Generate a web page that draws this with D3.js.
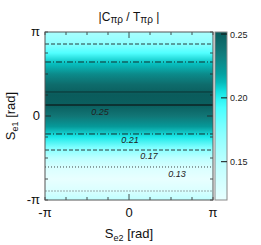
<!DOCTYPE html>
<html>
<head>
<meta charset="utf-8">
<script src="https://cdn.jsdelivr.net/npm/d3@7"></script>
<style>
  body { margin: 0; background: #fff; }
  svg { display: block; font-family: 'Liberation Sans', Arial, sans-serif; }
</style>
</head>
<body>
<div id="chart"></div>
<script>
const s1Samples = [-1, -0.875, -0.75, -0.625, -0.5, -0.375, -0.25, -0.125, 0, 0.125, 0.25, 0.375, 0.5, 0.625, 0.75, 0.875, 1]
const ratioValues = [0.148, 0.128, 0.120, 0.129, 0.150, 0.176, 0.203, 0.222, 0.237, 0.250, 0.2515, 0.243, 0.228, 0.211, 0.190, 0.168, 0.158]

// contour crossings (S_e1 in units of pi) and their level
const contourS = [0.286, 0.131, 0.643, -0.214, 0.857, -0.405, -0.607, -0.893]
const contourLevel = [0.25, 0.25, 0.21, 0.21, 0.17, 0.17, 0.13, 0.13]

// contour labels: level, S_e2 and S_e1 (units of pi)
const labelText = ['0.25', '0.21', '0.17', '0.13']
const labelS2 = [-0.345, 0.012, 0.238, 0.571]
const labelS1 = [0.048, -0.286, -0.476, -0.69]

const colorTicks = [0.15, 0.20, 0.25]
const valueRange = [0.120, 0.2516]
const colorStops = [0.12, 0.15, 0.175, 0.195, 0.205, 0.215, 0.235, 0.2516]
const colorList = ['#e8ffff', '#bcffff', '#82ffff', '#40ffff', '#12e2e2', '#00aaaa', '#127a7a', '#0a5c5c']

const width = 261, height = 245
const margin = { top: 32, right: 48, bottom: 45, left: 45 }
const plotW = width - margin.left - margin.right
const plotH = height - margin.top - margin.bottom

const svg = d3.select('#chart').append('svg').attr('width', width).attr('height', height)

const xScale = d3.scaleLinear().domain([-1, 1]).range([margin.left, margin.left + plotW])
const yScale = d3.scaleLinear().domain([-1, 1]).range([margin.top + plotH, margin.top])
const color = d3.scaleLinear().domain(colorStops).range(colorList)
const cbX = margin.left + plotW + 2, cbW = 12
const cScale = d3.scaleLinear().domain(valueRange).range([margin.top + plotH, margin.top])

const defs = svg.append('defs')

// heat map: one gradient along S_e1
const grad = defs.append('linearGradient').attr('id', 'heat')
  .attr('gradientUnits', 'userSpaceOnUse')
  .attr('x1', 0).attr('x2', 0).attr('y1', margin.top).attr('y2', margin.top + plotH)
grad.selectAll('stop').data(s1Samples.map((s, i) => ({ s, v: ratioValues[i] })).reverse())
  .join('stop')
  .attr('offset', (d) => (yScale(d.s) - margin.top) / plotH)
  .attr('stop-color', (d) => color(d.v))

svg.append('rect').attr('x', margin.left).attr('y', margin.top)
  .attr('width', plotW).attr('height', plotH).attr('fill', 'url(#heat)')

// colour bar gradient
const cbValues = d3.range(0, 21).map((i) => valueRange[0] + (valueRange[1] - valueRange[0]) * i / 20)
const cbGrad = defs.append('linearGradient').attr('id', 'cbar')
  .attr('x1', 0).attr('x2', 0).attr('y1', 1).attr('y2', 0)
cbGrad.selectAll('stop').data(cbValues).join('stop')
  .attr('offset', (d, i) => i / 20)
  .attr('stop-color', (d) => color(d))

// contour lines
const styles = {
  0.25: { dash: null, stroke: '#0d2a2a' },
  0.21: { dash: '6,2,1,2', stroke: '#111' },
  0.17: { dash: '4,2', stroke: '#1a1a1a' },
  0.13: { dash: '1,2', stroke: '#222' }
}
svg.append('g').selectAll('line').data(contourS).join('line')
  .attr('x1', margin.left).attr('x2', margin.left + plotW)
  .attr('y1', (d) => yScale(d)).attr('y2', (d) => yScale(d))
  .attr('stroke', (d, i) => (i === 7 ? '#8a9a9a' : styles[contourLevel[i]].stroke))
  .attr('stroke-width', (d, i) => (i === 1 ? 1.8 : 1))
  .attr('stroke-dasharray', (d, i) => (i === 7 ? '2,1' : styles[contourLevel[i]].dash))
  .attr('stroke-opacity', 0.85)

svg.append('g').selectAll('text').data(labelText).join('text')
  .attr('x', (d, i) => xScale(labelS2[i]))
  .attr('y', (d, i) => yScale(labelS1[i]) + 3)
  .attr('text-anchor', 'middle')
  .attr('font-size', '9px').attr('font-style', 'italic').attr('fill', '#222')
  .text((d) => d)

// ticks every pi/4, inward on all four sides
const minor = d3.range(-4, 5).map((k) => k / 4)
const tickLen = (d) => (d === 0 ? 6 : 3)
const tg = svg.append('g').attr('stroke', '#222').attr('stroke-width', 0.8)
minor.forEach((d) => {
  tg.append('line').attr('x1', xScale(d)).attr('x2', xScale(d))
    .attr('y1', margin.top + plotH).attr('y2', margin.top + plotH - tickLen(d))
  tg.append('line').attr('x1', xScale(d)).attr('x2', xScale(d))
    .attr('y1', margin.top).attr('y2', margin.top + tickLen(d))
  tg.append('line').attr('y1', yScale(d)).attr('y2', yScale(d))
    .attr('x1', margin.left).attr('x2', margin.left + tickLen(d))
  tg.append('line').attr('y1', yScale(d)).attr('y2', yScale(d))
    .attr('x1', margin.left + plotW).attr('x2', margin.left + plotW - tickLen(d))
})

svg.append('rect').attr('x', margin.left).attr('y', margin.top)
  .attr('width', plotW).attr('height', plotH)
  .attr('fill', 'none').attr('stroke', '#555').attr('stroke-width', 1)

// colour bar
svg.append('rect').attr('x', cbX).attr('y', margin.top).attr('width', cbW).attr('height', plotH)
  .attr('fill', 'url(#cbar)').attr('stroke', '#888').attr('stroke-width', 1)
svg.append('g').selectAll('line').data(colorTicks).join('line')
  .attr('x1', cbX + cbW).attr('x2', cbX + cbW - 6)
  .attr('y1', (d) => cScale(d)).attr('y2', (d) => cScale(d))
  .attr('stroke', '#111').attr('stroke-width', 1)
svg.append('g').selectAll('text').data(colorTicks).join('text')
  .attr('x', cbX + cbW + 3).attr('y', (d) => cScale(d) + 3.5)
  .attr('font-size', '9px').attr('fill', '#222')
  .text((d) => d.toFixed(2))

// axis tick labels
const piTicks = [-1, 0, 1]
const piLabel = (d) => (d === -1 ? '-\u03c0' : d === 0 ? '0' : '\u03c0')
svg.append('g').selectAll('text').data(piTicks).join('text')
  .attr('x', (d) => xScale(d)).attr('y', margin.top + plotH + 17)
  .attr('text-anchor', 'middle').attr('font-size', '13px').attr('fill', '#111')
  .text(piLabel)
svg.append('g').selectAll('text').data(piTicks).join('text')
  .attr('x', margin.left - 5).attr('y', (d) => yScale(d) + 4)
  .attr('text-anchor', 'end').attr('font-size', '13px').attr('fill', '#111')
  .text(piLabel)

// title and axis labels
const title = svg.append('text').attr('x', margin.left + plotW / 2).attr('y', 21)
  .attr('text-anchor', 'middle').attr('font-size', '12px').attr('fill', '#111')
title.append('tspan').text('|C')
title.append('tspan').attr('font-size', '10px').attr('dy', 1.5).text('\u03c0\u03c1')
title.append('tspan').attr('dy', -1.5).text(' / T')
title.append('tspan').attr('font-size', '10px').attr('dy', 1.5).text('\u03c0\u03c1')
title.append('tspan').attr('dy', -1.5).text(' |')

const xl = svg.append('text').attr('x', margin.left + plotW / 2).attr('y', 238)
  .attr('text-anchor', 'middle').attr('font-size', '13px').attr('fill', '#111')
xl.append('tspan').text('S')
xl.append('tspan').attr('font-size', '9px').attr('dy', 3).text('e2')
xl.append('tspan').attr('dy', -3).text(' [rad]')

const yl = svg.append('text').attr('transform', `translate(15,${margin.top + plotH / 2}) rotate(-90)`)
  .attr('text-anchor', 'middle').attr('font-size', '13px').attr('fill', '#111')
yl.append('tspan').text('S')
yl.append('tspan').attr('font-size', '9px').attr('dy', 3).text('e1')
yl.append('tspan').attr('dy', -3).text(' [rad]')
</script>
</body>
</html>
